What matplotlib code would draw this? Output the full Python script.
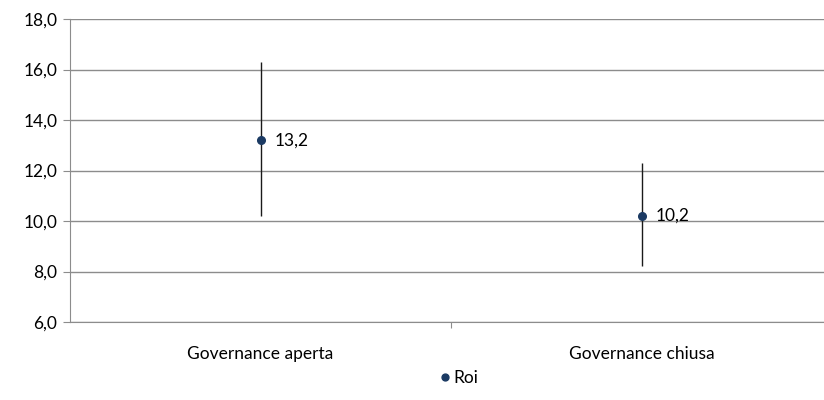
import matplotlib.pyplot as plt
from matplotlib.ticker import FuncFormatter

categories = ["Governance aperta", "Governance chiusa"]
roi = [13.2, 10.2]
lower = [10.2, 8.2]
upper = [16.3, 12.3]
labels = ["13,2", "10,2"]

plt.rcParams['font.family'] = ['Lato', 'DejaVu Sans']
grid_col = '#8c8c8c'
fs = 12.5

fig = plt.figure(figsize=(8.24, 4.0), dpi=100)
ax = fig.add_axes([70/824, 1 - 322/400, 762/824, 303/400])

x = list(range(len(categories)))
err = [[r - lo for r, lo in zip(roi, lower)], [up - r for r, up in zip(roi, upper)]]
ax.errorbar(x, roi, yerr=err, fmt='none', ecolor='#1a1a1a', elinewidth=1.0, capsize=0, zorder=3)
ax.plot(x, roi, 'o', color='#1b3a63', markersize=5.5, linestyle='none', label='Roi', zorder=4)
for xi, yi, t in zip(x, roi, labels):
    ax.annotate(t, (xi, yi), xytext=(10, 0), textcoords='offset points',
                va='center', ha='left', fontsize=fs)

ax.set_xlim(-0.5, 1.5)
ax.set_ylim(6, 18)
ax.set_yticks(range(6, 19, 2))
ax.yaxis.set_major_formatter(FuncFormatter(lambda v, p: f"{v:.1f}".replace('.', ',')))
ax.set_xticks([0.5])
ax.set_xticklabels([''])
ax.set_xticks(x, minor=True)
ax.set_xticklabels(categories, minor=True)
ax.tick_params(axis='x', which='minor', length=0, pad=17, labelsize=fs)
ax.tick_params(axis='x', which='major', length=4, color=grid_col, direction='out')
ax.tick_params(axis='y', length=5, color=grid_col, labelsize=fs, pad=4)

ax.grid(axis='y', color=grid_col, linewidth=1.0)
ax.set_axisbelow(True)
for s in ['top', 'right']:
    ax.spines[s].set_visible(False)
for s in ['left', 'bottom']:
    ax.spines[s].set_color(grid_col)

fig.legend(loc='center', bbox_to_anchor=(458/824, 1 - 378/400), frameon=False,
           fontsize=fs, handletextpad=0.1, handlelength=0.8, markerscale=0.9)

fig.savefig('out.png', dpi=100)
